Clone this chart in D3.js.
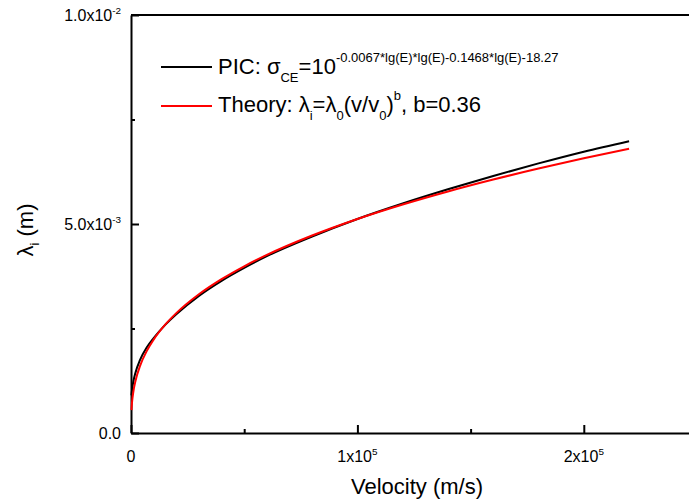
<!DOCTYPE html>
<html><head><meta charset="utf-8">
<script src="https://cdn.jsdelivr.net/npm/d3@7"></script>
<style>
html,body{margin:0;padding:0;background:#fff;}
svg{display:block;font-family:"Liberation Sans",Arial,sans-serif;}
</style></head>
<body><svg id="c" width="689" height="503"></svg>
<script>
// ---- data ----
const velocity = [200, 500, 1000, 2000, 4000, 7000, 10000, 15000, 20000, 30000, 40000, 50000, 60000, 80000, 100000, 120000, 140000, 160000, 180000, 200000, 220000];
const lambdaPIC = [0.90e-3, 1.05e-3, 1.22e-3, 1.45e-3, 1.75e-3, 2.05e-3, 2.27e-3, 2.58e-3, 2.84e-3, 3.28e-3, 3.64e-3, 3.95e-3, 4.23e-3, 4.70e-3, 5.12e-3, 5.49e-3, 5.83e-3, 6.15e-3, 6.45e-3, 6.73e-3, 6.98e-3];
const lambdaTheory = [0.547e-3, 0.760e-3, 0.975e-3, 1.252e-3, 1.607e-3, 1.966e-3, 2.235e-3, 2.585e-3, 2.868e-3, 3.319e-3, 3.681e-3, 3.989e-3, 4.260e-3, 4.724e-3, 5.120e-3, 5.467e-3, 5.779e-3, 6.064e-3, 6.326e-3, 6.571e-3, 6.800e-3];
const xMajorTicks = [0, 100000, 200000];
const xTickLabels = [["0", null], ["1x10", "5"], ["2x10", "5"]];
const xMinorTicks = [50000, 150000];
const yMajorTicks = [0, 0.005, 0.01];
const yTickLabels = [["0.0", null], ["5.0x10", "-3"], ["1.0x10", "-2"]];
const yMinorTicks = [0.0025, 0.0075];

const svg = d3.select("#c");
const L = 131, T = 15, W = 566, H = 418;
const x = d3.scaleLinear().domain([0, 250000]).range([L, L + W]);
const y = d3.scaleLinear().domain([0, 0.01]).range([T + H, T]);

// frame (top line)
svg.append("line").attr("x1", L).attr("x2", L + W).attr("y1", T).attr("y2", T)
  .attr("stroke", "#000").attr("stroke-width", 2);

// axes
svg.append("g").attr("transform", `translate(0,${T + H})`)
  .call(d3.axisBottom(x).tickValues(xMajorTicks).tickSizeInner(-8).tickSizeOuter(0).tickFormat(""));
svg.append("g").attr("transform", `translate(0,${T + H})`)
  .call(d3.axisBottom(x).tickValues(xMinorTicks).tickSizeInner(-4).tickSizeOuter(0).tickFormat(""))
  .select(".domain").remove();
svg.append("g").attr("transform", `translate(${L},0)`)
  .call(d3.axisLeft(y).tickValues(yMajorTicks).tickSizeInner(-8).tickSizeOuter(0).tickFormat(""));
svg.append("g").attr("transform", `translate(${L},0)`)
  .call(d3.axisLeft(y).tickValues(yMinorTicks).tickSizeInner(-4).tickSizeOuter(0).tickFormat(""))
  .select(".domain").remove();
svg.selectAll(".domain").attr("stroke-width", 2);
svg.selectAll(".tick line").attr("stroke-width", 2);

function labelWithSup(g, base, sup, fs) {
  g.append("tspan").text(base);
  if (sup) g.append("tspan").attr("dy", -7).attr("font-size", fs * 0.62).text(sup);
}
// x tick labels
xMajorTicks.forEach((v, i) => {
  const t = svg.append("text").attr("x", x(v)).attr("y", T + H + 29)
    .attr("text-anchor", "middle").attr("font-size", 16).attr("fill", "#000");
  labelWithSup(t, xTickLabels[i][0], xTickLabels[i][1], 16);
});
// y tick labels
yMajorTicks.forEach((v, i) => {
  const t = svg.append("text").attr("x", L - 10).attr("y", y(v) + 6)
    .attr("text-anchor", "end").attr("font-size", 16).attr("fill", "#000");
  labelWithSup(t, yTickLabels[i][0], yTickLabels[i][1], 16);
});

// axis titles
svg.append("text").attr("x", x(125000) + 3).attr("y", 494).attr("text-anchor", "middle")
  .attr("font-size", 22).attr("fill", "#000").text("Velocity (m/s)");
const yt = svg.append("text").attr("transform", `translate(33,${T + H / 2 + 6}) rotate(-90)`)
  .attr("text-anchor", "middle").attr("font-size", 22).attr("fill", "#000");
yt.append("tspan").text("λ");
yt.append("tspan").attr("dy", 6).attr("font-size", 13).text("i");
yt.append("tspan").attr("dy", -6).text(" (m)");

// curves
const line = d3.line().x(d => x(d[0])).y(d => y(d[1])).curve(d3.curveMonotoneX);
svg.append("path").datum(velocity.map((v, i) => [v, lambdaPIC[i]]))
  .attr("d", line).attr("fill", "none").attr("stroke", "#000").attr("stroke-width", 2);
svg.append("path").datum(velocity.map((v, i) => [v, lambdaTheory[i]]))
  .attr("d", line).attr("fill", "none").attr("stroke", "#ff0000").attr("stroke-width", 2);

// legend
svg.append("line").attr("x1", 161).attr("x2", 212).attr("y1", 67).attr("y2", 67).attr("stroke", "#000").attr("stroke-width", 2);
svg.append("line").attr("x1", 161).attr("x2", 212).attr("y1", 106).attr("y2", 106).attr("stroke", "#ff0000").attr("stroke-width", 2);
const fsMain = 22, fsSmall = 13;
const l1 = svg.append("text").attr("x", 218).attr("y", 74).attr("font-size", fsMain).attr("fill", "#000");
l1.append("tspan").text("PIC: σ");
l1.append("tspan").attr("dy", 8).attr("font-size", fsSmall).text("CE");
l1.append("tspan").attr("dy", -8).text("=10");
l1.append("tspan").attr("dy", -12).attr("font-size", fsSmall).text("-0.0067*lg(E)*lg(E)-0.1468*lg(E)-18.27");
const l2 = svg.append("text").attr("x", 218).attr("y", 112).attr("font-size", fsMain).attr("fill", "#000");
l2.append("tspan").text("Theory: λ");
l2.append("tspan").attr("dy", 8).attr("font-size", fsSmall).text("i");
l2.append("tspan").attr("dy", -8).text("=λ");
l2.append("tspan").attr("dy", 8).attr("font-size", fsSmall).text("0");
l2.append("tspan").attr("dy", -8).text("(v/v");
l2.append("tspan").attr("dy", 8).attr("font-size", fsSmall).text("0");
l2.append("tspan").attr("dy", -8).text(")");
l2.append("tspan").attr("dy", -12).attr("font-size", fsSmall).text("b");
l2.append("tspan").attr("dy", 12).text(", b=0.36");
</script></body></html>
